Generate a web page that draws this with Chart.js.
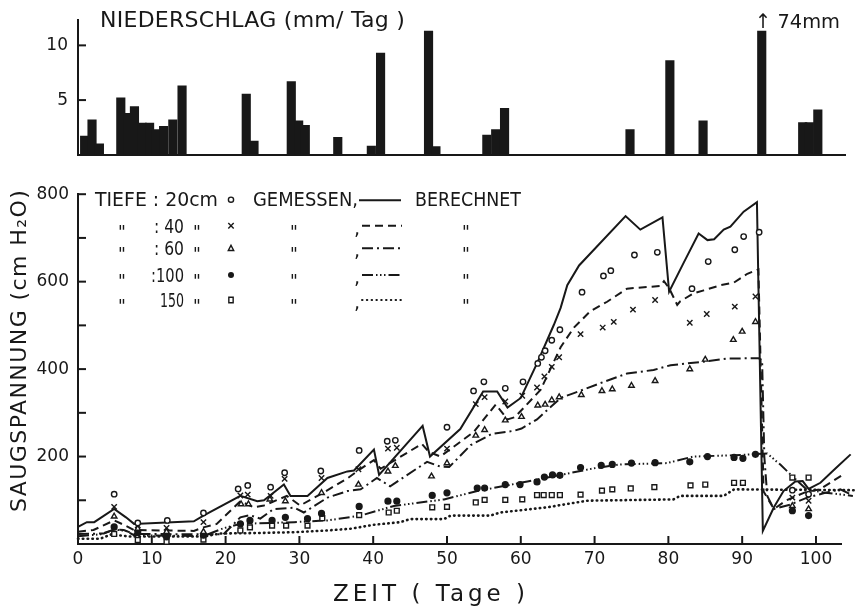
<!DOCTYPE html>
<html><head><meta charset="utf-8">
<script src="https://cdn.jsdelivr.net/npm/chart.js@4.4.1/dist/chart.umd.min.js"></script>
<style>
html,body{margin:0;padding:0;background:#fff;}
#wrap{position:relative;width:864px;height:607px;overflow:hidden;background:#fff;}
#top{position:absolute;left:0;top:0;width:864px;height:175px;}
#bot{position:absolute;left:0;top:175px;width:864px;height:432px;}
</style></head><body>
<div id="wrap">
<canvas id="top" width="864" height="175"></canvas>
<canvas id="bot" width="864" height="432"></canvas>
</div>
<script>
// ---------- DATA ----------
// Niederschlag (mm/Tag): day (bar centre) and amount; the 74 mm bar is drawn truncated
const rainDay = [0.9,1.9,2.9,5.8,6.75,7.65,8.7,9.7,10.55,11.6,12.85,14.1,22.8,23.85,28.9,29.9,30.8,35.2,39.75,41.0,47.5,48.5,55.4,56.6,57.8,74.8,80.2,84.7,92.65,98.2,99.1,100.25];
const rainMm  = [1.7,3.2,1.0,5.2,3.8,4.4,2.9,2.9,2.3,2.6,3.2,6.3,5.55,1.25,6.7,3.1,2.7,1.6,0.8,9.3,11.3,0.75,1.8,2.3,4.25,2.3,8.6,3.1,11.3,2.95,2.95,4.1];
const rainTicks = [5, 10];
const rainNote = '\u2191 74mm';

// Berechnet (calculated) [day, cm H2O]
const calc20 = [[0,39],[1.2,50],[2.2,50],[4.9,80],[6.5,61],[7.6,46],[15.7,52],[17,65],[22,110],[24.3,98],[25.2,100],[27.9,136],[28.8,110],[31.1,110],[33.8,151],[36.5,166],[37.4,168],[40.1,216],[40.8,158],[46.7,270],[47.7,200],[51.8,263],[54.9,349],[56.8,349],[58.2,312],[60,334],[62.2,413],[64.5,502],[65.4,540],[66.3,592],[67.9,637],[74.2,750],[76.2,719],[79.2,747],[80.1,577],[82.1,644],[84.1,710],[85.3,695],[86.2,697],[87.5,719],[88.4,726],[90.2,760],[92.0,782],[92.8,30],[94.3,84],[95.6,121],[97.2,143],[98.2,144],[99,126],[100.6,140],[102.6,172],[104.7,205]];
const calc40 = [[0,28],[2.1,32],[4.9,54],[6.3,43],[7.6,32],[15.7,30],[17,38],[18.8,46],[22,98],[23.8,84],[25.2,88],[28.3,110],[30.1,88],[33.3,118],[36.5,150],[38.3,172],[40.1,192],[41,172],[46.6,229],[47.5,211],[49.1,200],[53.6,256],[56.6,319],[58.2,285],[59.2,290],[62.7,353],[65.4,450],[67.2,495],[69.4,532],[71.7,554],[74.4,584],[78.9,590],[79.4,601],[80.1,585],[81.2,547],[81.6,555],[83.4,573],[84.8,580],[87.1,592],[88.9,598],[90.7,618],[92.2,628],[92.9,120],[94.3,80],[96,100],[98.5,118],[100.5,125],[103.8,160]];
const calc60 = [[0,23],[3.5,24],[4.9,33],[6.2,32],[7.6,23],[19.7,22],[22,61],[23.3,66],[24.7,58],[26.5,80],[29.3,83],[30.6,72],[33.8,106],[36.5,121],[38.3,125],[40.5,151],[42.3,132],[47.3,188],[49.1,177],[50.3,176],[53.2,226],[56.1,252],[59.1,259],[60.1,264],[62.2,285],[65.4,334],[67.2,345],[70.8,368],[74.4,390],[78,398],[80.3,409],[84.3,416],[87.9,424],[92.2,425],[92.7,420],[93.0,200],[93.4,110],[94.3,80],[96.5,90],[98.8,106],[101.5,118],[103.3,125],[104.5,115]];
const calc100 = [[0,18],[3,22],[4.9,33],[6.5,30],[7.6,20],[17,18],[19.7,36],[22,46],[29.3,50],[33.8,54],[38.3,65],[42.8,87],[49.6,102],[54.1,121],[60.9,143],[65.4,158],[69.9,173],[73.5,182],[79.8,185],[83.4,200],[88.9,203],[93.4,207],[95.2,181],[96.8,155],[98.7,125],[101,118],[105,110]];
const calc150 = [[0,12],[3,12],[4.5,22],[7,17],[17,17],[19.3,24],[24,25],[29.3,27],[33.8,31],[37,35],[40.1,44],[43.7,50],[45,57],[49.6,57],[50.5,65],[55.9,65],[57.2,72],[63.6,84],[69,99],[80.7,102],[81.6,110],[87.5,110],[88.9,125],[105.6,123]];

// Gemessen (measured) [day, cm H2O]
const meas20 = [[4.9,114],[8.1,48],[12.1,54],[17,71],[21.7,126],[23,134],[26.1,130],[28,163],[32.9,167],[38.1,214],[41.9,235],[43,237],[50,267],[53.6,350],[55,371],[57.9,356],[60.3,371],[62.3,413],[62.8,427],[63.3,442],[64.2,466],[65.3,490],[68.3,576],[71.2,613],[72.2,625],[75.4,661],[78.5,667],[83.2,584],[85.4,646],[89,673],[90.2,703],[92.3,713],[96.8,123],[99,114]];
const meas40 = [[4.9,85],[8.1,43],[12,37],[17,50],[22,111],[23,113],[26.1,110],[28,149],[33,151],[38,171],[42,218],[43.2,220],[50,218],[53.9,320],[55.1,336],[57.9,326],[60.2,339],[62.2,358],[63.2,383],[64.2,405],[65.2,427],[68.1,480],[71.1,495],[72.6,508],[75.2,536],[78.2,558],[82.9,506],[85.2,526],[89,543],[91.8,566],[96.8,106],[99,99]];
const meas60 = [[4.9,63],[8.1,35],[12,28],[17,28],[22.1,91],[23.1,91],[26,102],[28.1,98],[33,117],[38,136],[42,166],[43,179],[47.9,155],[50,185],[53.9,248],[55.1,261],[57.9,283],[60.1,291],[62.3,317],[63.3,319],[64.2,329],[65.2,336],[68.2,341],[71,350],[72.4,354],[75,362],[78.2,373],[82.9,400],[85,422],[88.8,467],[90,486],[91.8,508],[96.8,87],[99,80]];
const meas100 = [[4.9,39],[8.1,28],[12,16],[17,20],[22,46],[23.3,54],[26.3,54],[28.1,61],[31.1,58],[33,70],[38.1,86],[42,98],[43.2,98],[48,111],[50,117],[54.1,128],[55.1,128],[57.9,136],[59.9,136],[62.2,142],[63.2,153],[64.3,158],[65.3,157],[68.1,175],[70.9,180],[72.4,182],[75,185],[78.2,186],[82.9,188],[85.3,200],[88.9,198],[90.1,196],[91.8,205],[96.8,76],[99,65]];
const meas150 = [[4.9,23],[8.1,9],[12,5],[17,10],[22,31],[23.3,38],[26.3,42],[28.2,42],[31.1,42],[33.1,59],[38.1,66],[42.1,72],[43.2,76],[48,84],[50,85],[53.9,95],[55.1,101],[57.9,101],[60.2,102],[62.2,112],[63.1,112],[64.2,112],[65.3,112],[68.1,113],[71,122],[72.4,125],[74.9,127],[78.1,130],[83,134],[85,136],[88.9,140],[90.1,140],[96.8,152],[99,152]];

const xTickMarks = [10,20,30,40,50,60,70,80,90,100];
const yTickMarks = [100,200,300,400,500,600,700,800];
const yLabelled = [200,400,600,800];

// ---------- TEXTS ----------
const titleTop = 'NIEDERSCHLAG (mm/ Tag )';
const titleY = 'SAUGSPANNUNG (cm H\u2082O)';
const titleX = 'ZEIT ( Tage )';
const legendHead = ['TIEFE : 20cm', 'GEMESSEN,', 'BERECHNET'];
const legendDepths = [': 40', ': 60', ':100', '150'];
const ditto = '"';

// ---------- STYLE ----------
const INK = '#181818';
const FONT = '"DejaVu Sans", "Liberation Sans", sans-serif';
const dash40 = [8,5], dash60 = [11,4,2,4], dash100 = [11,3,1.5,2.5,1.5,2.5,1.5,3], dash150 = [0.5,4.3];

// draw text so that it spans `width`: letter-spacing if too narrow, horizontal squeeze if too wide
function fitText(ctx, text, x, y, width, size) {
  ctx.font = size + 'px ' + FONT;
  ctx.letterSpacing = '0px';
  ctx.textAlign = 'left';
  const w = ctx.measureText(text).width;
  const n = [...text].length;
  if (w > width) {
    ctx.save();
    ctx.translate(x, y);
    ctx.scale(width / w, 1);
    ctx.fillText(text, 0, 0);
    ctx.restore();
    return;
  }
  const ls = n > 1 ? (width - w) / (n - 1) : 0;
  ctx.letterSpacing = ls.toFixed(2) + 'px';
  ctx.fillText(text, x, y);
  ctx.letterSpacing = '0px';
}

function marker(ctx, style, x, y, r) {
  ctx.save();
  ctx.strokeStyle = INK; ctx.fillStyle = INK; ctx.lineWidth = 1.4; ctx.setLineDash([]);
  ctx.beginPath();
  if (style === 'circle') { ctx.arc(x, y, r, 0, Math.PI*2); ctx.stroke(); }
  else if (style === 'dot') { ctx.arc(x, y, r, 0, Math.PI*2); ctx.fill(); }
  else if (style === 'cross') { ctx.moveTo(x-r,y-r); ctx.lineTo(x+r,y+r); ctx.moveTo(x+r,y-r); ctx.lineTo(x-r,y+r); ctx.stroke(); }
  else if (style === 'tri') { ctx.moveTo(x, y-r*1.1); ctx.lineTo(x+r, y+r*0.8); ctx.lineTo(x-r, y+r*0.8); ctx.closePath(); ctx.stroke(); }
  else if (style === 'rect') { ctx.rect(x-r*0.8, y-r, r*1.6, r*2); ctx.stroke(); }
  ctx.restore();
}

function sample(ctx, dash, x0, x1, y, w, cap) {
  ctx.save();
  ctx.strokeStyle = INK; ctx.lineWidth = w; ctx.setLineDash(dash); ctx.lineCap = cap || 'butt';
  ctx.beginPath(); ctx.moveTo(x0, y); ctx.lineTo(x1, y); ctx.stroke();
  ctx.restore();
}

const innerTicks = {
  id: 'innerTicks',
  afterDraw(chart, args, opts) {
    const {ctx, chartArea: a, scales} = chart;
    ctx.save(); ctx.strokeStyle = INK; ctx.lineWidth = 2;
    (opts.y || []).forEach(v => { const py = scales.y.getPixelForValue(v); ctx.beginPath(); ctx.moveTo(a.left, py); ctx.lineTo(a.left + 8, py); ctx.stroke(); });
    (opts.x || []).forEach(v => { const px = scales.x.getPixelForValue(v); ctx.beginPath(); ctx.moveTo(px, a.bottom); ctx.lineTo(px, a.bottom - 8); ctx.stroke(); });
    ctx.restore();
  }
};

const topTexts = {
  id: 'topTexts',
  afterDraw(chart) {
    const ctx = chart.ctx;
    ctx.save(); ctx.fillStyle = INK; ctx.textBaseline = 'alphabetic';
    fitText(ctx, titleTop, 100, 26.5, 305, 22);
    fitText(ctx, rainNote, 755, 28, 85, 20);
    ctx.restore();
  }
};

const botTexts = {
  id: 'botTexts',
  afterDraw(chart) {
    const ctx = chart.ctx;
    const Y = v => v - 175; // page y -> canvas y
    ctx.save(); ctx.fillStyle = INK; ctx.textBaseline = 'alphabetic';
    // axis titles
    fitText(ctx, titleX, 333, Y(600.5), 192, 23);
    ctx.save();
    ctx.translate(26, Y(351));
    ctx.rotate(-Math.PI / 2);
    fitText(ctx, titleY, -161, 0, 322, 22);
    ctx.restore();
    // legend
    const rowY = [198.7, 225.7, 248.3, 275, 300];
    const styles = ['cross', 'tri', 'dot', 'rect'];
    const dashes = [dash40, dash60, dash100, dash150];
    const fs = 19;
    fitText(ctx, legendHead[0], 95, Y(rowY[0] + 7), 123, fs);
    marker(ctx, 'circle', 231, Y(rowY[0] + 1), 2.6);
    fitText(ctx, legendHead[1], 253, Y(rowY[0] + 7), 105, fs);
    sample(ctx, [], 359, 401, Y(rowY[0] + 1.5), 2);
    fitText(ctx, legendHead[2], 415, Y(rowY[0] + 7), 106, fs);
    const dit = (x, yc) => { ctx.font = '17px ' + FONT; ctx.letterSpacing = '0px'; ctx.textAlign = 'left'; ctx.fillText(ditto, x, Y(yc + 12)); };
    for (let i = 0; i < 4; i++) {
      const yc = rowY[i + 1];
      const yb = Y(yc + 7);
      dit(118, yc);
      const t = legendDepths[i];
      const x0 = t === '150' ? 160 : (t === ':100' ? 151 : 154);
      fitText(ctx, t, x0, yb, 184 - x0, 19);
      dit(193, yc);
      marker(ctx, styles[i], 231, Y(yc), styles[i] === 'dot' ? 3 : 2.7);
      dit(290, yc);
      ctx.font = fs + 'px ' + FONT;
      ctx.fillText(',', 354, Y(yc + 9));
      sample(ctx, dashes[i], 362, 402, Y(yc), 2, i === 3 ? 'round' : 'butt');
      dit(462, yc);
    }
    ctx.restore();
  }
};

const toXY = arr => arr.map(p => ({x: p[0], y: p[1]}));

// ---------- TOP CHART: Niederschlag ----------
new Chart(document.getElementById('top'), {
  type: 'bar',
  data: { datasets: [{ data: rainDay.map((d, i) => ({x: d, y: rainMm[i]})), backgroundColor: INK, borderWidth: 0, barThickness: 8.5 }] },
  options: {
    responsive: false, animation: false, devicePixelRatio: 1,
    layout: { padding: { left: 0, right: 18.5, top: 19, bottom: 13.5 } },
    plugins: { legend: { display: false }, tooltip: { enabled: false }, innerTicks: { y: rainTicks, x: [] } },
    scales: {
      x: { type: 'linear', min: 0, max: 104, offset: false,
           grid: { display: false, drawTicks: false },
           border: { display: true, color: INK, width: 2 },
           ticks: { display: false },
           afterFit(s) { s.height = 0; } },
      y: { min: 0, max: 12.3,
           grid: { display: false, drawTicks: false },
           border: { display: true, color: INK, width: 2 },
           ticks: { stepSize: 5, includeBounds: false, padding: 10, color: INK,
                    font: { family: FONT, size: 17 },
                    callback: v => rainTicks.includes(v) ? String(v) : '' },
           afterFit(s) { s.width = 78; } }
    }
  },
  plugins: [innerTicks, topTexts]
});

// ---------- BOTTOM CHART: Saugspannung ----------
const lineDs = (data, dash, w, cap) => ({
  type: 'line', data: toXY(data), borderColor: INK, borderWidth: w, borderDash: dash,
  borderCapStyle: cap || 'butt', pointRadius: 0, tension: 0, fill: false, clip: false, order: 2
});
const ptDs = (data, style, r, filled) => ({
  type: 'scatter', data: toXY(data), showLine: false, pointStyle: style, pointRadius: r,
  pointBorderWidth: 1.4, pointBorderColor: INK, pointBackgroundColor: filled ? INK : '#fff', clip: false, order: 1
});

new Chart(document.getElementById('bot'), {
  type: 'scatter',
  data: { datasets: [
    lineDs(calc20, [], 2),
    lineDs(calc40, dash40, 2),
    lineDs(calc60, dash60, 2),
    lineDs(calc100, dash100, 2),
    lineDs(calc150, dash150, 2.6, 'round'),
    ptDs(meas20, 'circle', 2.7, false),
    ptDs(meas40, 'crossRot', 3.8, false),
    ptDs(meas60, 'triangle', 3.2, false),
    ptDs(meas100, 'circle', 2.9, true),
    ptDs(meas150, 'rect', 3.4, false)
  ] },
  options: {
    responsive: false, animation: false, devicePixelRatio: 1,
    layout: { padding: { left: 0, right: 22.2, top: 12, bottom: 0 } },
    plugins: { legend: { display: false }, tooltip: { enabled: false }, innerTicks: { y: yTickMarks, x: xTickMarks } },
    scales: {
      x: { type: 'linear', min: 0, max: 103.5,
           grid: { display: false, drawTicks: false },
           border: { display: true, color: INK, width: 2 },
           ticks: { stepSize: 10, includeBounds: false, autoSkip: false, maxRotation: 0, padding: 5, color: INK,
                    font: { family: FONT, size: 17 } },
           afterFit(s) { s.height = 63; } },
      y: { min: 0, max: 800,
           grid: { display: false, drawTicks: false },
           border: { display: true, color: INK, width: 2 },
           ticks: { stepSize: 100, includeBounds: false, padding: 9, color: INK,
                    font: { family: FONT, size: 17 },
                    callback: v => yLabelled.includes(v) ? String(v) : '' },
           afterFit(s) { s.width = 78; } }
    }
  },
  plugins: [innerTicks, botTexts]
});
</script>
</body></html>
